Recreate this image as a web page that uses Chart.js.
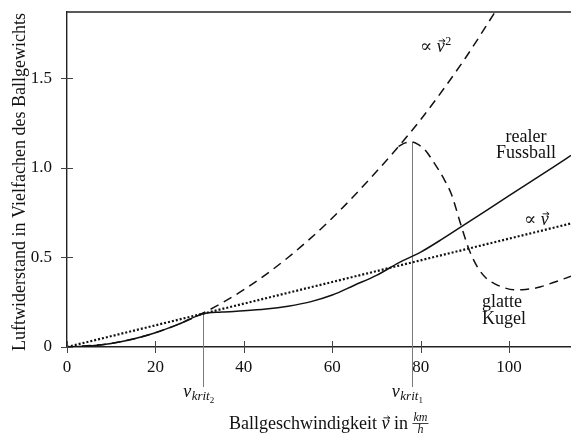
<!DOCTYPE html>
<html>
<head>
<meta charset="utf-8">
<script src="https://cdn.jsdelivr.net/npm/chart.js@4.4.1/dist/chart.umd.min.js"></script>
<style>
html, body { margin: 0; padding: 0; background: #fff; }
#wrap { width: 571px; height: 434px; }
</style>
</head>
<body>
<div id="wrap"><canvas id="myChart" width="571" height="434"></canvas></div>
<script>
// axis ticks
const xTicks = [0, 20, 40, 60, 80, 100];
const yTicks = [0, 0.5, 1.0, 1.5];

// proportional to v^2 (dashed)
const quadX = [0, 10, 20, 30, 40, 50, 60, 70, 75, 80, 90, 96.8];
const quadY = [0, 0.02, 0.08, 0.18, 0.32, 0.50, 0.72, 0.98, 1.12, 1.27, 1.61, 1.87];

// glatte Kugel, branching off the v^2 curve
const smoothX = [75, 76.5, 78, 79.5, 81, 83, 85, 87, 89, 91, 93, 95, 97, 99, 101, 103, 105, 107, 110, 114];
const smoothY = [1.12, 1.14, 1.145, 1.13, 1.10, 1.03, 0.95, 0.85, 0.69, 0.54, 0.44, 0.38, 0.35, 0.33, 0.32, 0.32, 0.325, 0.335, 0.36, 0.395];

// realer Fussball (solid)
const ballX = [0, 5, 10, 15, 20, 25, 30.8, 35, 40, 45, 50, 55, 60, 65, 70, 75, 80, 85, 90, 95, 100, 105, 110, 114];
const ballY = [0, 0.005, 0.02, 0.045, 0.08, 0.125, 0.185, 0.195, 0.202, 0.212, 0.228, 0.252, 0.29, 0.345, 0.40, 0.47, 0.53, 0.605, 0.685, 0.765, 0.845, 0.925, 1.005, 1.07];

// proportional to v (dotted)
const linX = [0, 114];
const linY = [0, 0.69];

// critical speeds
const kritX = [30.8, 78];
const kritY = [0.185, 1.145];
const kritSub = ['2', '1'];

const FONT = '"Liberation Serif", "DejaVu Serif", serif';
function fnt(size, italic) { return (italic ? 'italic ' : '') + size + 'px ' + FONT; }
function toPts(xs, ys) { return xs.map((x, i) => ({ x: x, y: ys[i] })); }

function seg(c, x, y, text, size, italic) {
  c.font = fnt(size, italic);
  c.fillText(text, x, y);
  return x + c.measureText(text).width;
}
function vecV(c, x, y, size) {
  c.font = fnt(size, true);
  const w = c.measureText('v').width;
  c.fillText('v', x, y);
  const ay = y - size * 0.62, x0 = x + w * 0.25, x1 = x + w * 1.05;
  c.save();
  c.lineWidth = 0.9;
  c.beginPath();
  c.moveTo(x0, ay); c.lineTo(x1, ay);
  c.moveTo(x1 - 2.5, ay - 2); c.lineTo(x1, ay); c.lineTo(x1 - 2.5, ay + 2);
  c.stroke();
  c.restore();
  return x + w;
}

const deco = {
  id: 'deco',
  beforeDatasetsDraw(chart) {
    const c = chart.ctx, xs = chart.scales.x, ys = chart.scales.y;
    c.save();
    c.strokeStyle = '#7a7a7a';
    c.lineWidth = 1;
    kritX.forEach((k, i) => {
      const px = Math.round(xs.getPixelForValue(k)) + 0.5;
      c.beginPath();
      c.moveTo(px, ys.getPixelForValue(kritY[i]));
      c.lineTo(px, 387);
      c.stroke();
    });
    c.restore();
  },
  afterDraw(chart) {
    const c = chart.ctx, xs = chart.scales.x, ys = chart.scales.y, a = chart.chartArea;
    c.save();
    // frame: top border
    c.strokeStyle = '#222';
    c.lineWidth = 1.4;
    c.beginPath();
    c.moveTo(a.left, a.top); c.lineTo(a.right, a.top);
    c.stroke();
    // tick marks crossing the axes
    c.strokeStyle = '#444';
    c.lineWidth = 1;
    xTicks.forEach(v => {
      const px = Math.round(xs.getPixelForValue(v)) + 0.5;
      c.beginPath(); c.moveTo(px, a.bottom - 6); c.lineTo(px, a.bottom + 6); c.stroke();
    });
    yTicks.forEach(v => {
      const py = Math.round(ys.getPixelForValue(v)) + 0.5;
      c.beginPath(); c.moveTo(a.left - 6, py); c.lineTo(a.left + 6, py); c.stroke();
    });

    c.fillStyle = '#111';
    c.strokeStyle = '#111';
    c.textBaseline = 'alphabetic';
    c.textAlign = 'left';

    // y title
    c.save();
    c.translate(25, 182);
    c.rotate(-Math.PI / 2);
    c.font = fnt(18, false);
    c.textAlign = 'center';
    c.fillText('Luftwiderstand in Vielfachen des Ballgewichts', 0, 0);
    c.restore();

    // x title
    let x = seg(c, 229, 429, 'Ballgeschwindigkeit ', 18, false);
    x = vecV(c, x, 429, 18);
    x = seg(c, x, 429, ' in ', 18, false);
    c.font = fnt(12, true);
    const kmW = c.measureText('km').width;
    c.fillText('km', x + 1, 421);
    c.lineWidth = 0.8;
    c.beginPath(); c.moveTo(x, 423.5); c.lineTo(x + kmW + 2, 423.5); c.stroke();
    c.fillText('h', x + 1 + (kmW - c.measureText('h').width) / 2, 433);

    // v_krit labels
    kritX.forEach((k, i) => {
      const px = xs.getPixelForValue(k) - 20;
      let xx = seg(c, px, 397, 'v', 18, true);
      xx = seg(c, xx + 0.5, 400, 'krit', 13, true);
      seg(c, xx, 403, kritSub[i], 9, false);
    });

    // curve labels
    let xq = seg(c, 420, 52, '\u221D ', 18, false);
    xq = vecV(c, xq, 52, 18);
    seg(c, xq + 0.5, 45, '2', 12, false);

    let xl = seg(c, 524, 225, '\u221D ', 18, false);
    vecV(c, xl, 225, 18);

    c.font = fnt(18, false);
    c.textAlign = 'center';
    c.fillText('realer', 526, 142);
    c.fillText('Fussball', 526, 158);
    c.textAlign = 'left';
    c.fillText('glatte', 482, 307);
    c.fillText('Kugel', 482, 324);
    c.restore();
  }
};

const ctx = document.getElementById('myChart');

const chart = new Chart(ctx, {
  type: 'line',
  data: {
    datasets: [
      {
        label: 'v2',
        data: toPts(quadX, quadY),
        borderColor: '#111',
        borderWidth: 1.5,
        borderDash: [9, 6],
        cubicInterpolationMode: 'monotone'
      },
      {
        label: 'glatte Kugel',
        data: toPts(smoothX, smoothY),
        borderColor: '#111',
        borderWidth: 1.5,
        borderDash: [9, 6],
        cubicInterpolationMode: 'monotone'
      },
      {
        label: 'realer Fussball',
        data: toPts(ballX, ballY),
        borderColor: '#111',
        borderWidth: 1.5,
        cubicInterpolationMode: 'monotone'
      },
      {
        label: 'v',
        data: toPts(linX, linY),
        borderColor: '#111',
        borderWidth: 2.2,
        borderDash: [2, 2]
      }
    ]
  },
  options: {
    responsive: false,
    animation: false,
    layout: { padding: { top: 12, right: 0, left: 0, bottom: 0 } },
    elements: { point: { radius: 0 } },
    plugins: { legend: { display: false }, tooltip: { enabled: false } },
    scales: {
      x: {
        type: 'linear',
        min: 0,
        max: 114,
        grid: { display: false, drawTicks: false },
        border: { display: true, color: '#222', width: 1.4 },
        afterBuildTicks: s => { s.ticks = xTicks.map(v => ({ value: v })); },
        afterFit: s => { s.height = 87; s.paddingLeft = 0; s.paddingRight = 0; },
        ticks: {
          padding: 10,
          color: '#111',
          maxRotation: 0,
          font: { family: FONT, size: 17 }
        }
      },
      y: {
        min: 0,
        max: 1.871,
        grid: { display: false, drawTicks: false },
        border: { display: true, color: '#222', width: 1.4 },
        afterBuildTicks: s => { s.ticks = yTicks.map(v => ({ value: v })); },
        afterFit: s => { s.width = 67; s.paddingTop = 0; s.paddingBottom = 0; },
        ticks: {
          padding: 15,
          color: '#111',
          font: { family: FONT, size: 17 },
          callback: v => (v === 0 ? '0' : v.toFixed(1))
        }
      }
    }
  },
  plugins: [deco]
});
</script>
</body>
</html>
